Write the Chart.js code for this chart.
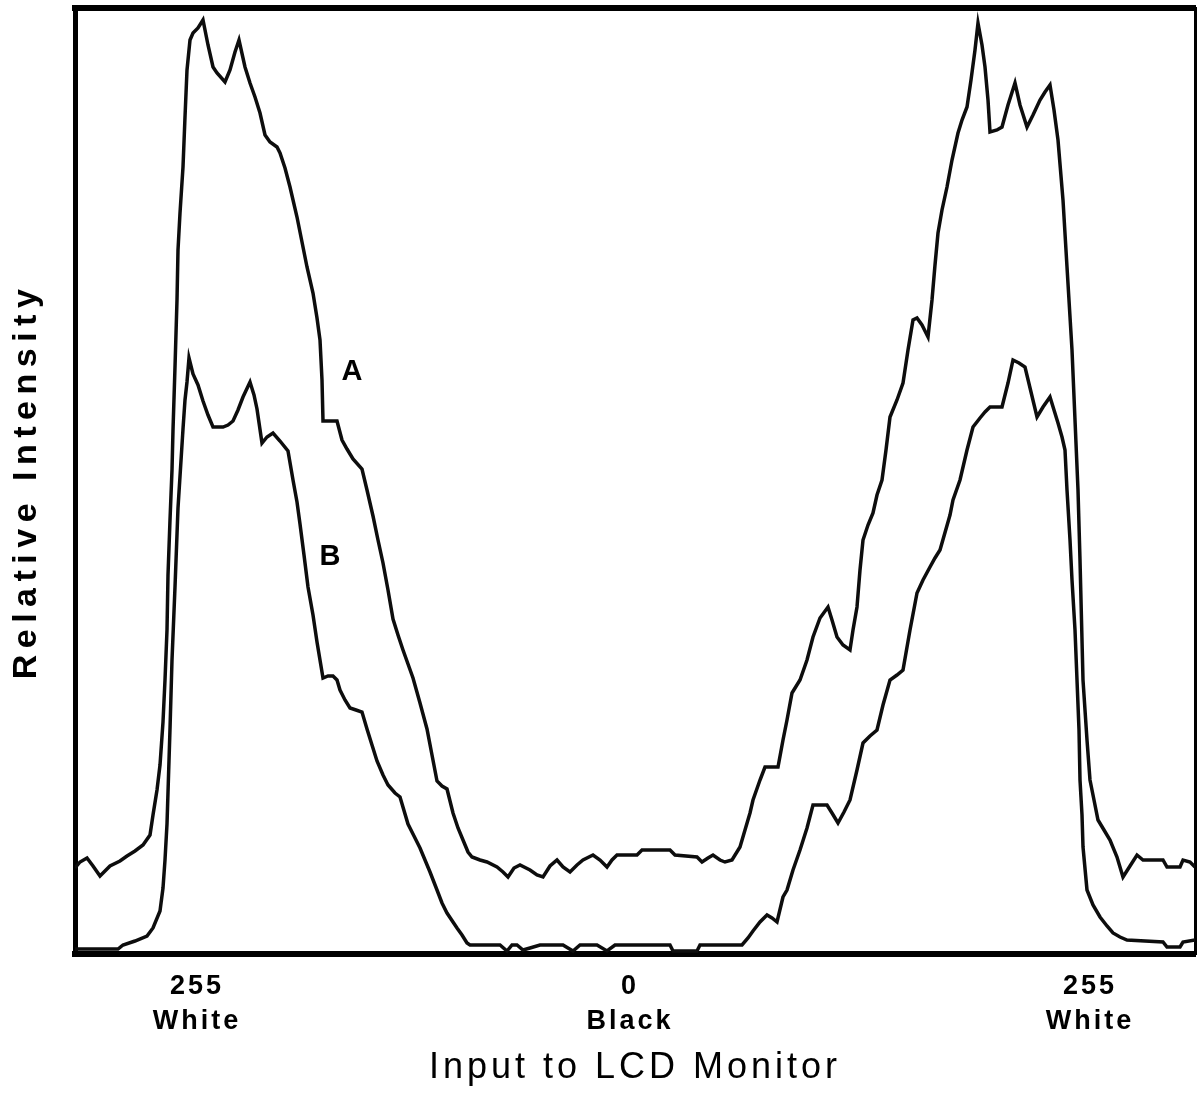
<!DOCTYPE html>
<html><head><meta charset="utf-8">
<script src="https://cdn.jsdelivr.net/npm/chart.js@4/dist/chart.umd.min.js"></script>
<style>html,body{margin:0;padding:0;background:#fff}canvas{display:block}</style>
</head><body>
<canvas id="c" width="1199" height="1097"></canvas>
<script>
// Curve A (scan position, relative intensity)
const aX = [0,5,12,18,25,35,45,52,60,68,75,78,82,85,88,90,92,93,95,97,98,100,102,103,105,108,110,112,115,118,123,128,133,138,142,150,155,160,164,170,175,180,185,190,195,202,205,210,215,222,227,232,238,242,245,247,248,262,267,272,278,287,292,298,303,308,313,318,323,328,333,338,345,352,357,362,367,372,378,383,388,393,397,405,412,422,428,433,439,445,455,462,468,475,482,488,495,502,508,518,525,532,537,542,562,567,595,600,622,627,633,638,645,650,657,665,670,675,678,685,690,703,708,712,717,725,732,738,745,753,757,762,768,775,778,782,785,788,793,798,802,807,811,815,822,828,833,838,842,847,853,857,860,863,867,872,877,883,887,892,896,900,903,907,910,913,915,922,927,933,940,945,952,958,965,970,975,979,983,988,992,997,1000,1003,1005,1008,1012,1015,1019,1023,1029,1035,1042,1048,1055,1062,1068,1088,1092,1105,1108,1115,1120];
const aY = [86,92,96,88,78,88,93,98,103,109,119,139,164,189,232,274,324,379,434,484,524,587,654,704,741,787,837,884,914,921,926,934,909,887,881,872,884,902,914,887,871,857,841,819,812,807,801,786,767,737,712,687,661,636,614,574,533,533,514,505,495,485,464,438,414,391,364,335,319,304,290,276,251,225,199,173,168,165,141,126,114,102,97,94,92,87,82,77,86,89,84,79,77,88,94,87,82,89,94,99,94,87,94,99,99,104,104,99,97,92,96,99,94,92,94,107,124,141,154,174,187,187,214,234,261,274,294,317,336,347,334,317,309,304,324,347,384,414,429,441,459,474,504,537,554,571,604,634,636,629,617,654,689,721,744,767,794,821,834,847,874,904,931,909,887,854,822,824,827,849,871,849,827,839,854,862,869,844,814,754,687,604,534,464,394,274,214,174,154,134,124,114,97,77,88,99,94,94,87,87,94,92,87];
// Curve B
const bX = [0,43,48,60,72,78,85,88,90,92,95,97,100,103,108,110,112,114,118,123,128,133,138,148,153,158,163,168,175,179,182,187,192,198,205,213,218,222,225,229,233,238,242,248,253,258,262,265,270,275,281,287,292,297,302,308,313,320,325,333,339,345,355,362,367,372,382,387,392,395,425,432,437,442,448,455,465,488,498,505,522,532,540,595,598,622,625,667,673,678,685,692,697,702,708,712,718,725,732,738,752,757,763,769,775,782,788,795,802,808,815,822,828,835,842,848,855,860,865,875,878,885,892,898,905,910,915,927,933,938,944,950,956,962,968,975,979,983,987,990,992,995,997,1000,1002,1004,1005,1007,1008,1012,1018,1025,1032,1038,1045,1052,1088,1092,1105,1108,1120];
const bY = [5,5,9,13,18,26,43,66,94,130,225,294,367,446,525,554,572,596,580,569,553,539,527,527,529,533,544,557,572,559,545,511,517,521,513,503,474,452,430,399,367,339,312,276,278,278,274,264,254,246,244,242,225,209,193,179,169,161,157,130,118,106,82,64,51,41,26,19,11,9,9,3,9,9,4,6,9,9,3,9,9,3,9,9,3,3,9,9,16,23,32,39,36,32,57,64,84,104,126,149,149,141,131,142,154,184,211,218,224,249,274,279,284,324,361,374,387,396,404,439,454,474,504,527,536,542,547,547,571,594,591,587,562,537,547,557,544,531,517,504,464,414,374,324,274,224,174,139,107,64,49,37,28,21,17,14,12,7,7,12,14];

const xMin = 0, xMax = 1120, yMin = 0, yMax = 946;
const tickPositions = [122, 555, 1015];
const tickValues = ['255', '0', '255'];
const tickNames = ['White', 'Black', 'White'];
const seriesNames = ['A', 'B'];
const seriesLabelX = [277, 255];
const seriesLabelY = [582, 397];
const xTitle = 'Input to LCD Monitor';
const yTitle = 'Relative Intensity';

const canvas = document.getElementById('c');
const ctx = canvas.getContext('2d');
// letter spacing by font size (the reference type is widely tracked)
const spacingBySize = {34: '6.5px', 36: '4px', 27: '3px', 29: '0px'};
function applySpacing(c) {
  const m = /(\d+(?:\.\d+)?)px/.exec(c.font);
  const s = m && spacingBySize[Math.round(parseFloat(m[1]))];
  try { c.letterSpacing = s || '0px'; } catch (e) {}
}
const origFill = ctx.fillText;
ctx.fillText = function(...args) { applySpacing(this); return origFill.apply(this, args); };
const origMeasure = ctx.measureText;
ctx.measureText = function(...args) { applySpacing(this); return origMeasure.apply(this, args); };

const FONT = "'Liberation Sans', Arial, Helvetica, sans-serif";
Chart.defaults.color = '#000';
Chart.defaults.font.family = FONT;

const seriesLabels = {
  id: 'seriesLabels',
  afterDatasetsDraw(chart) {
    const c = chart.ctx, xs = chart.scales.x, ys = chart.scales.y;
    c.save();
    c.font = 'bold 29px ' + FONT;
    c.fillStyle = '#000';
    c.textAlign = 'center';
    c.textBaseline = 'middle';
    seriesNames.forEach((n, i) => {
      c.fillText(n, xs.getPixelForValue(seriesLabelX[i]), ys.getPixelForValue(seriesLabelY[i]));
    });
    c.restore();
  }
};

const lineStyle = {borderColor: '#0d0d0d', borderWidth: 3.5, pointRadius: 0, tension: 0, fill: false, borderJoinStyle: 'miter'};

new Chart(ctx, {
  type: 'line',
  data: {
    datasets: [
      Object.assign({label: seriesNames[0], data: aX.map((x, i) => ({x, y: aY[i]}))}, lineStyle),
      Object.assign({label: seriesNames[1], data: bX.map((x, i) => ({x, y: bY[i]}))}, lineStyle)
    ]
  },
  options: {
    responsive: false,
    animation: false,
    events: [],
    layout: {padding: {top: 8, right: 4, left: 0, bottom: 1}},
    plugins: {legend: {display: false}, tooltip: {enabled: false}},
    scales: {
      x: {
        type: 'linear', position: 'bottom', min: xMin, max: xMax,
        grid: {display: false, drawTicks: false},
        border: {display: true, width: 6, color: '#000'},
        afterBuildTicks: (s) => { s.ticks = tickPositions.map(v => ({value: v})); },
        afterFit: (s) => { s.height = 142; },
        ticks: {
          autoSkip: false, maxRotation: 0, padding: 15, color: '#000',
          font: {family: FONT, size: 27, weight: 'bold', lineHeight: 1.3},
          callback: (v) => { const i = tickPositions.indexOf(v); return i < 0 ? '' : [tickValues[i], tickNames[i]]; }
        },
        title: {
          display: true, text: xTitle, color: '#000',
          font: {family: FONT, size: 36, weight: 'normal', lineHeight: 1.2},
          padding: {top: 4, bottom: 6.4}
        }
      },
      xTop: {
        type: 'linear', position: 'top', min: xMin, max: xMax, display: true,
        grid: {display: false, drawTicks: false}, ticks: {display: false},
        border: {display: true, width: 6, color: '#000'}
      },
      y: {
        type: 'linear', position: 'left', min: yMin, max: yMax,
        grid: {display: false, drawTicks: false}, ticks: {display: false},
        border: {display: true, width: 5, color: '#000'},
        afterFit: (s) => { s.width = 75; },
        title: {
          display: true, text: yTitle, color: '#000',
          font: {family: FONT, size: 34, weight: 'bold', lineHeight: 1.2},
          padding: {top: 6, bottom: 28}
        }
      },
      yRight: {
        type: 'linear', position: 'right', min: yMin, max: yMax, display: true,
        grid: {display: false, drawTicks: false}, ticks: {display: false},
        border: {display: true, width: 3, color: '#000'}
      }
    }
  },
  plugins: [seriesLabels]
});
</script>
</body></html>
